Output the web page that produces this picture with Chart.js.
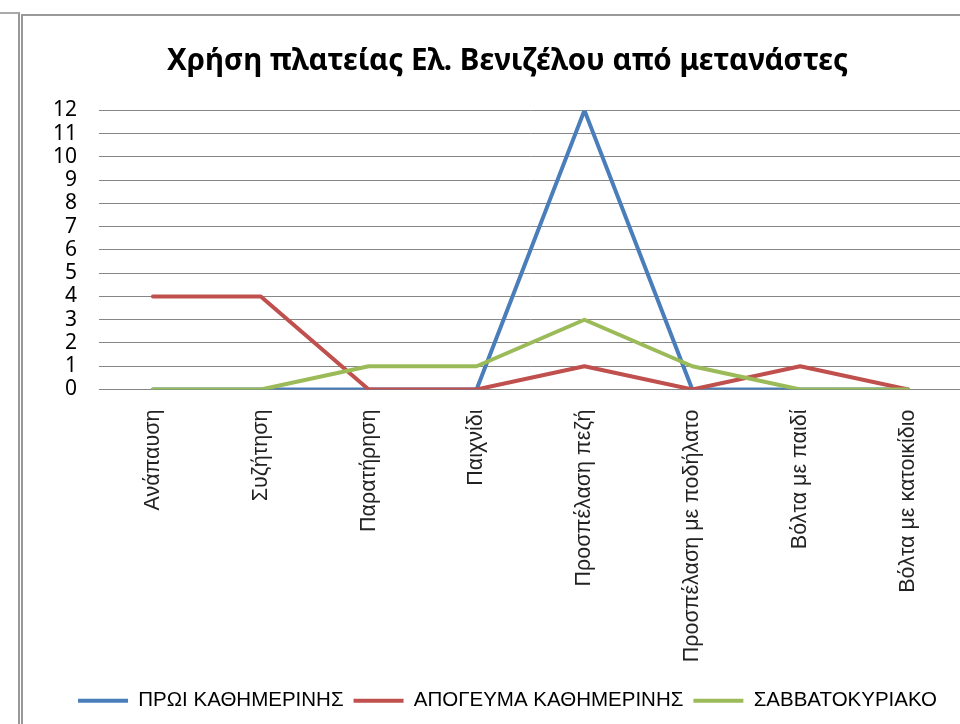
<!DOCTYPE html>
<html>
<head>
<meta charset="utf-8">
<script src="https://cdn.jsdelivr.net/npm/chart.js@4.4.1/dist/chart.umd.min.js"></script>
<style>
  body { margin: 0; overflow: hidden; background: #fff; }
  #outer { position: absolute; left: 0; top: 12px; width: 18px; height: 740px;
           border-top: 2px solid #aaa; border-right: 2px solid #999; }
  #box { position: absolute; left: 21px; top: 14px; width: 984px; height: 720px;
         border-left: 2px solid #999; border-top: 2px solid #999; }
  #chart { display: block; }
</style>
</head>
<body>
<div id="outer"></div>
<div id="box"><canvas id="chart" width="984" height="708"></canvas></div>
<script>
var categories = ["Ανάπαυση", "Συζήτηση", "Παρατήρηση", "Παιχνίδι", "Προσπέλαση πεζή",
                  "Προσπέλαση με ποδήλατο", "Βόλτα με παιδί", "Βόλτα με κατοικίδιο"];
var seriesNames = ["ΠΡΩΙ ΚΑΘΗΜΕΡΙΝΗΣ", "ΑΠΟΓΕΥΜΑ ΚΑΘΗΜΕΡΙΝΗΣ", "ΣΑΒΒΑΤΟΚΥΡΙΑΚΟ"];
var morning = [0, 0, 0, 0, 12, 0, 0, 0];
var afternoon = [4, 4, 0, 0, 1, 0, 1, 0];
var weekend = [0, 0, 1, 1, 3, 1, 0, 0];
var colors = ["#4A7EBB", "#C0504D", "#9BBB59"];

function line(i, values) {
  return {
    label: seriesNames[i],
    data: values,
    borderColor: colors[i],
    backgroundColor: colors[i],
    borderWidth: 4,
    borderCapStyle: 'round',
    borderJoinStyle: 'round',
    pointRadius: 0,
    tension: 0,
    fill: false,
    order: 3 - i   // later series drawn on top
  };
}

var ctx = document.getElementById('chart').getContext('2d');
var chart = new Chart(ctx, {
  type: 'line',
  data: {
    labels: categories,
    datasets: [line(0, morning), line(1, afternoon), line(2, weekend)]
  },
  options: {
    responsive: false,
    animation: false,
    events: [],
    layout: { padding: { top: 0, left: 30, right: 45, bottom: 3 } },
    plugins: {
      title: {
        display: true,
        text: 'Χρήση πλατείας Ελ. Βενιζέλου από μετανάστες',
        color: '#000',
        font: { family: "'Noto Sans', sans-serif", size: 29.5, weight: 'bold', lineHeight: 1.2 },
        padding: { top: 28, bottom: 31 }
      },
      legend: {
        position: 'bottom',
        labels: {
          usePointStyle: true,
          pointStyle: 'line',
          pointStyleWidth: 50,
          padding: 10,
          color: '#000',
          font: { family: "'Liberation Sans', Arial, sans-serif", size: 20.5 },
          sort: function (a, b) { return a.datasetIndex - b.datasetIndex; }
        }
      },
      tooltip: { enabled: false }
    },
    scales: {
      x: {
        offset: true,
        grid: { display: false, drawTicks: false },
        border: { display: true, color: '#868686', width: 1 },
        ticks: {
          autoSkip: false,
          minRotation: 90,
          maxRotation: 90,
          padding: 20,
          color: '#222',
          font: { family: "'Liberation Sans', Arial, sans-serif", size: 21.5 }
        },
        afterFit: function (scale) { scale.height = 291; }
      },
      y: {
        min: 0,
        max: 12,
        grid: { color: '#868686', lineWidth: 1, drawTicks: false },
        border: { display: false },
        ticks: {
          stepSize: 1,
          autoSkip: false,
          padding: 22,
          color: '#000',
          font: { family: "'Noto Sans', sans-serif", size: 21 }
        },
        afterFit: function (scale) { scale.width = 46; }
      }
    }
  }
});
</script>
</body>
</html>
